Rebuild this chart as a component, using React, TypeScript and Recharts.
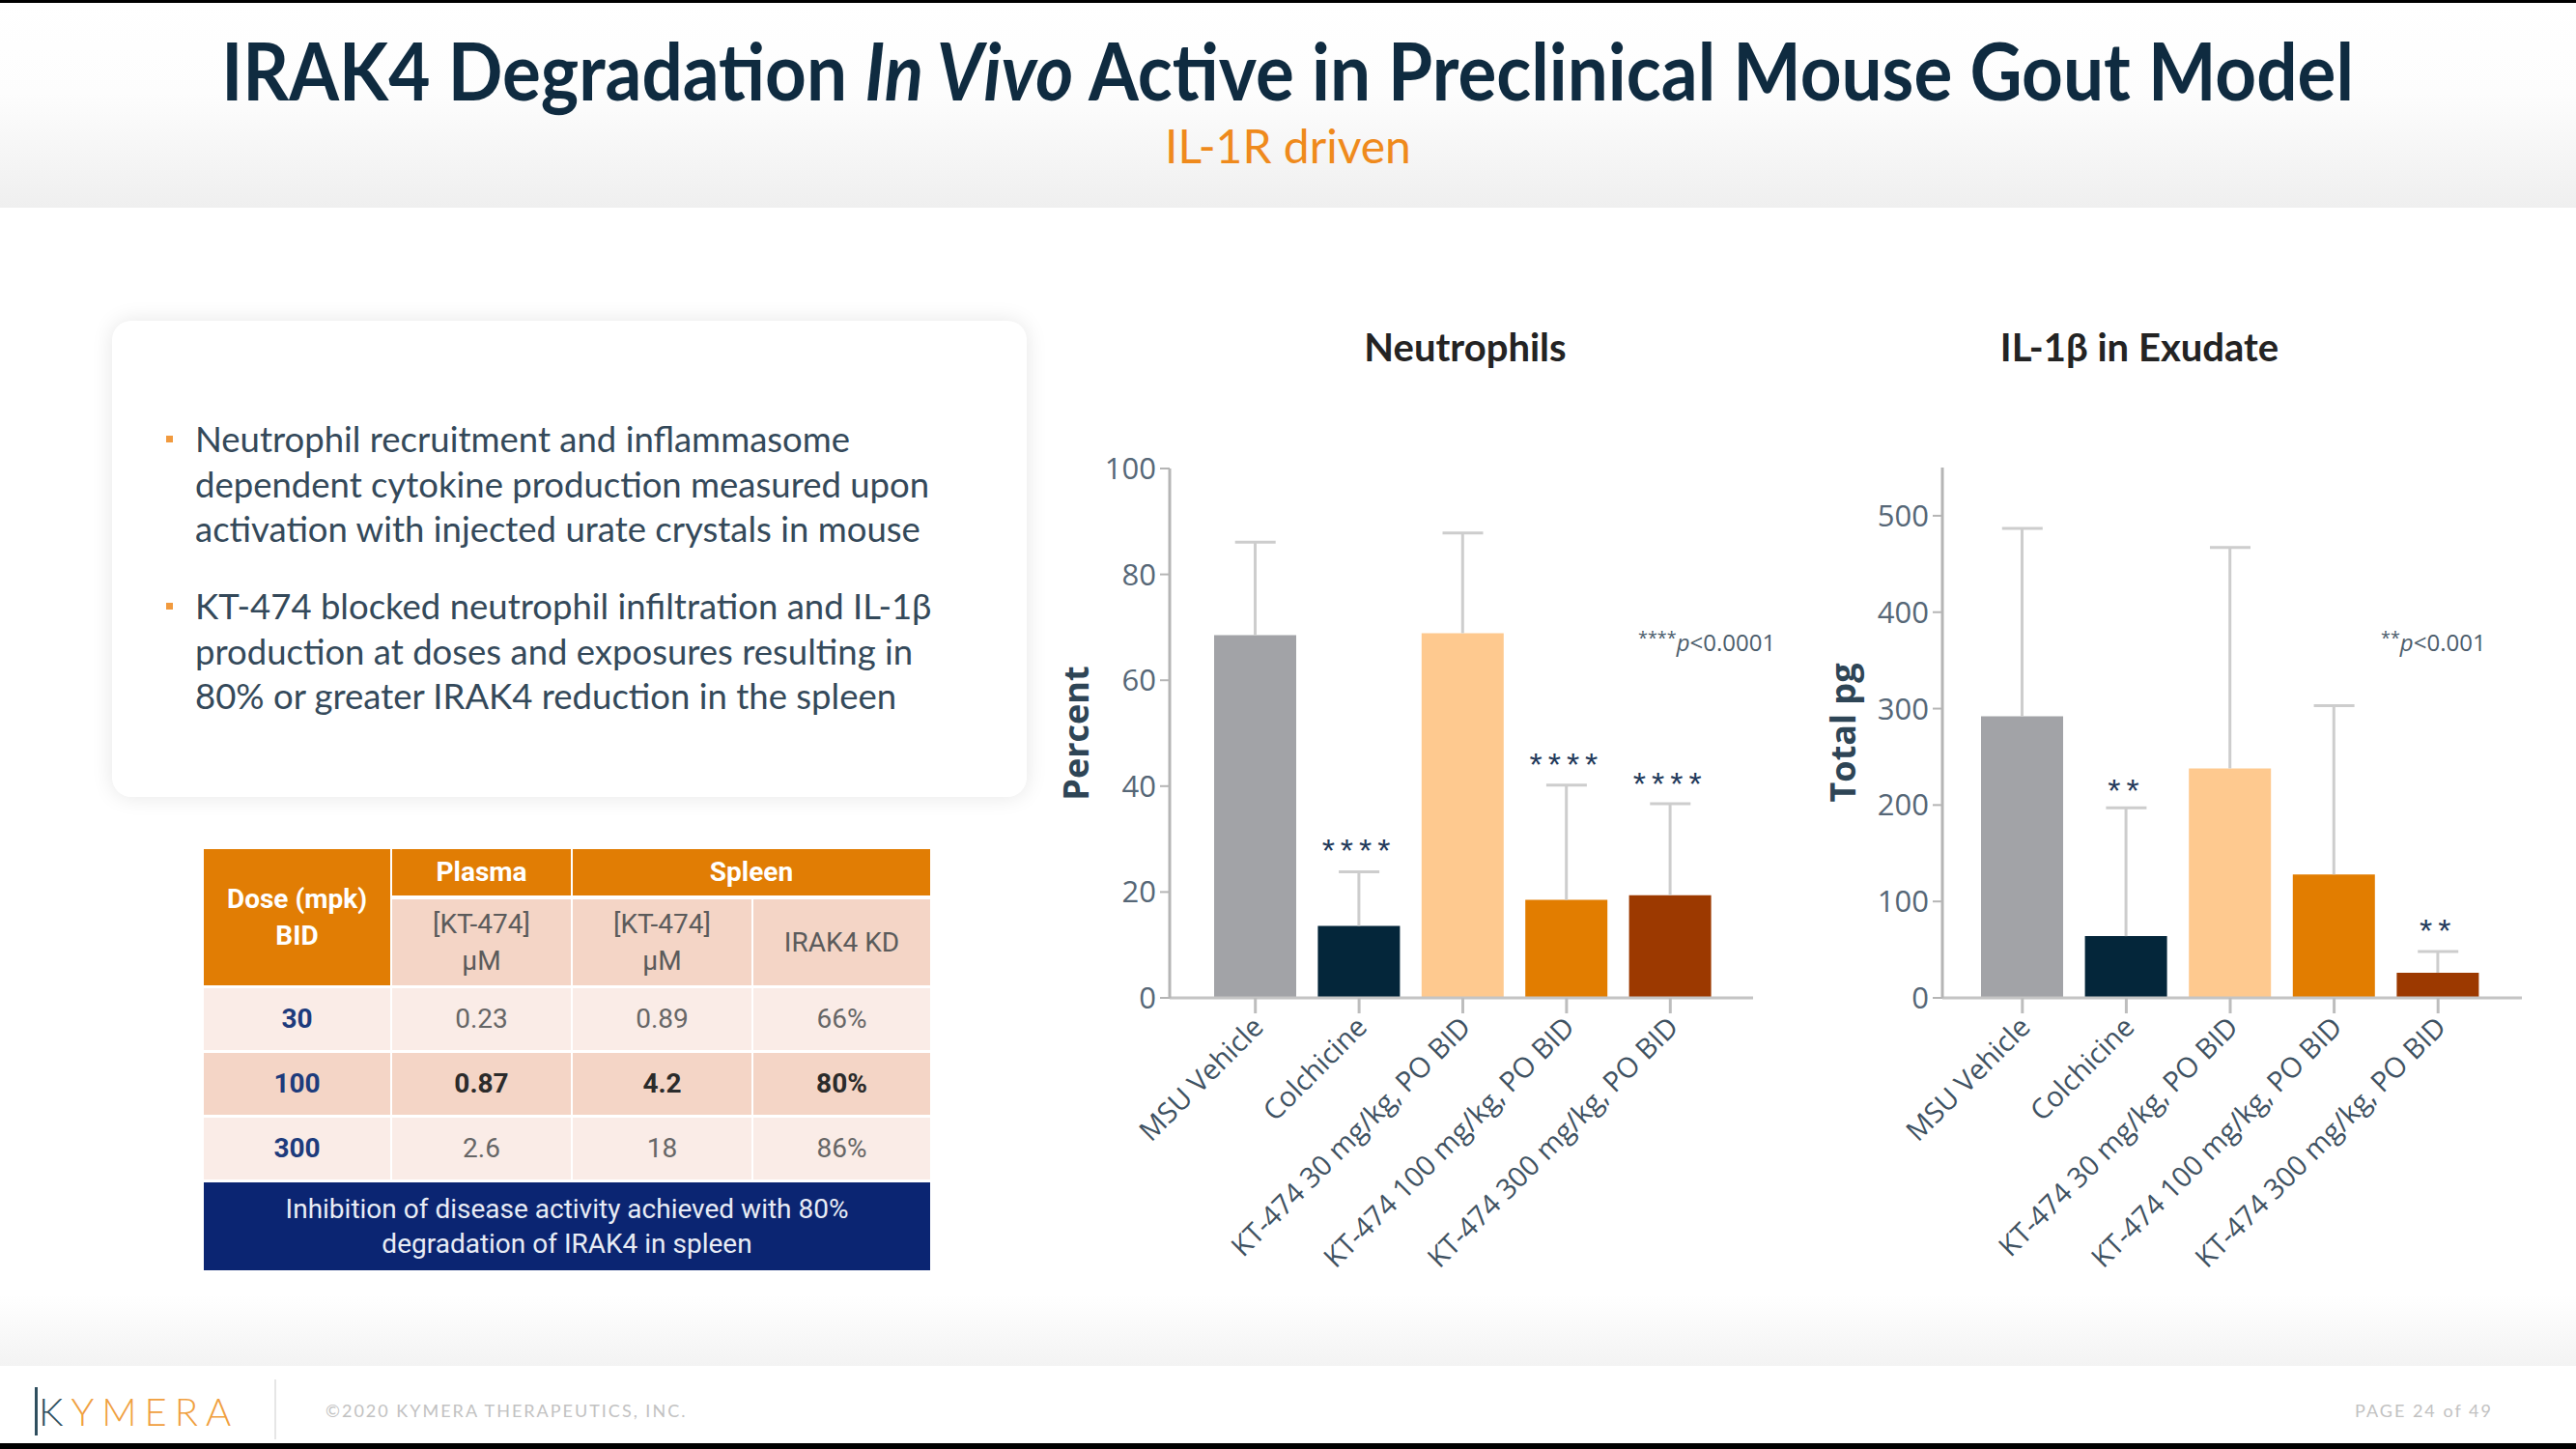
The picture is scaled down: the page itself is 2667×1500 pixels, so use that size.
import React from "react";
import { ComposedChart, Bar, XAxis, YAxis, ErrorBar, Cell, Scatter, Label } from "recharts";

// treatment groups, same order in both panels
const groups = [
  "MSU Vehicle",
  "Colchicine",
  "KT-474 30 mg/kg, PO BID",
  "KT-474 100 mg/kg, PO BID",
  "KT-474 300 mg/kg, PO BID",
];
const barColors = ["#a2a3a7", "#04263a", "#fec98f", "#e27d00", "#9c3900"];

// Neutrophils (percent), mean and upward SD
const neutrophilMean = [68.5, 13.6, 68.9, 18.5, 19.4];
const neutrophilSd = [17.6, 10.2, 18.9, 21.7, 17.3];
const neutrophilStars = ["", "****", "", "****", "****"];
const neutrophilStarAt = [null, 29.2, null, 45.5, 41.7];
const percentTicks = [0, 20, 40, 60, 80, 100];

// IL-1b in exudate (total pg)
const il1bMean = [292, 64, 238, 128, 26];
const il1bSd = [195, 133, 229, 175, 22];
const il1bStars = ["", "**", "", "", "**"];
const il1bStarAt = [null, 222, null, null, 77];
const pgTicks = [0, 100, 200, 300, 400, 500];

// exposure table
const doses = ["30", "100", "300"];
const plasmaConc = ["0.23", "0.87", "2.6"];
const spleenConc = ["0.89", "4.2", "18"];
const irak4Kd = ["66%", "80%", "86%"];

const bullets = [
  [
    "Neutrophil recruitment and inflammasome",
    "dependent cytokine production measured upon",
    "activation with injected urate crystals in mouse",
  ],
  [
    "KT-474 blocked neutrophil infiltration and IL-1\u03b2",
    "production at doses and exposures resulting in",
    "80% or greater IRAK4 reduction in the spleen",
  ],
];

const sans = "'Open Sans', 'DejaVu Sans', sans-serif";
const lato = "Lato, 'Open Sans', sans-serif";

function GroupTick(props: any) {
  const { x, y, payload } = props;
  const ax = x + 10;
  const ay = y + 14;
  return (
    <text
      x={ax}
      y={ay}
      transform={`rotate(-45 ${ax} ${ay})`}
      textAnchor="end"
      fontSize={29}
      fill="#3f5262"
      fontFamily={sans}
    >
      {payload.value}
    </text>
  );
}

function StarMark(props: any) {
  const { cx, cy, payload } = props;
  if (!payload || !payload.mark || typeof cy !== "number" || isNaN(cy)) return <g />;
  return (
    <text
      x={cx}
      y={cy + 19}
      textAnchor="middle"
      fontSize={34}
      letterSpacing={6}
      fill="#22395a"
      fontFamily="'Liberation Sans', sans-serif"
    >
      {payload.mark}
    </text>
  );
}

// cap drawn only on the upper end of each error bar
function ErrCap(props: any) {
  const { cx, cy } = props;
  if (typeof cy !== "number" || isNaN(cy)) return <g />;
  return <line x1={cx - 21} x2={cx + 21} y1={cy} y2={cy} stroke="#cdcdcd" strokeWidth={3} />;
}

interface PanelProps {
  left: number;
  yLabel: string;
  labelOffset: number;
  mean: number[];
  sd: number[];
  stars: string[];
  starAt: (number | null)[];
  domain: [number, number];
  ticks: number[];
  top: number;
  right: number;
  pad: { left: number; right: number };
}

function Panel({ left, yLabel, labelOffset, mean, sd, stars, starAt, domain, ticks, top, right, pad }: PanelProps) {
  const data = groups.map((name, i) => ({
    name,
    value: mean[i],
    err: [0, sd[i]],
    errTop: mean[i] + sd[i],
    star: starAt[i],
    mark: stars[i],
  }));
  return (
    <div style={{ position: "absolute", left, top: 400 }}>
      <ComposedChart
        width={800}
        height={1000}
        data={data}
        margin={{ top, right, left: 41, bottom: 67 }}
      >
        <XAxis
          dataKey="name"
          interval={0}
          tick={<GroupTick />}
          tickSize={16}
          tickLine={{ stroke: "#bdbdbd", strokeWidth: 3 }}
          axisLine={{ stroke: "#c4c4c4", strokeWidth: 3 }}
          height={300}
          padding={pad}
        />
        <YAxis
          type="number"
          domain={domain}
          ticks={ticks}
          width={120}
          tickSize={10}
          tickMargin={4}
          axisLine={{ stroke: "#b5b5b5", strokeWidth: 3 }}
          tickLine={{ stroke: "#b5b5b5", strokeWidth: 2 }}
          tick={{ fontSize: 31, fill: "#566777", fontFamily: sans }}
        >
          <Label
            value={yLabel}
            angle={-90}
            position="insideLeft"
            offset={labelOffset}
            style={{ textAnchor: "middle", fontSize: 36, fontWeight: 700, fill: "#2e4556", fontFamily: sans }}
          />
        </YAxis>
        <Bar dataKey="value" barSize={85} isAnimationActive={false}>
          {data.map((d, i) => (
            <Cell key={d.name} fill={barColors[i]} />
          ))}
          <ErrorBar dataKey="err" width={0} stroke="#cdcdcd" strokeWidth={3} />
        </Bar>
        <Scatter dataKey="errTop" shape={<ErrCap />} isAnimationActive={false} />
        <Scatter dataKey="star" shape={<StarMark />} isAnimationActive={false} />
      </ComposedChart>
    </div>
  );
}

const cellBase: React.CSSProperties = {
  position: "absolute",
  display: "flex",
  alignItems: "center",
  justifyContent: "center",
  textAlign: "center",
  fontFamily: "Roboto, 'Liberation Sans', sans-serif",
  fontSize: 28,
  lineHeight: "38px",
};

function ExposureTable() {
  const colX = [211, 406, 593, 780];
  const colW = [193, 185, 185, 183];
  const rowTop = [1023, 1090, 1157];
  const rowFill = ["#faece7", "#f4d5c6", "#faece7"];
  const cols = [doses, plasmaConc, spleenConc, irak4Kd];
  const orange = "#e17d04";
  const peach = "#f4d5c6";
  return (
    <>
      <div style={{ ...cellBase, left: colX[0], top: 879, width: colW[0], height: 141, background: orange, color: "#fff", fontWeight: 700 }}>
        Dose (mpk)
        <br />
        BID
      </div>
      <div style={{ ...cellBase, left: colX[1], top: 879, width: colW[1], height: 48, background: orange, color: "#fff", fontWeight: 700 }}>
        Plasma
      </div>
      <div style={{ ...cellBase, left: colX[2], top: 879, width: colW[2] + colW[3] + 2, height: 48, background: orange, color: "#fff", fontWeight: 700 }}>
        Spleen
      </div>
      {["[KT-474]\n\u00b5M", "[KT-474]\n\u00b5M", "IRAK4 KD"].map((t, j) => (
        <div
          key={j}
          style={{ ...cellBase, left: colX[j + 1], top: 931, width: colW[j + 1], height: 89, background: peach, color: "#5b5b5b", whiteSpace: "pre-line" }}
        >
          {t}
        </div>
      ))}
      {rowTop.map((t, r) =>
        cols.map((c, j) => (
          <div
            key={`${r}-${j}`}
            style={{
              ...cellBase,
              left: colX[j],
              top: t,
              width: colW[j],
              height: 64,
              background: rowFill[r],
              color: j === 0 ? "#1d3b7c" : r === 1 ? "#2b2b2b" : "#666",
              fontWeight: j === 0 || r === 1 ? 700 : 400,
            }}
          >
            {c[r]}
          </div>
        ))
      )}
      <div
        style={{ ...cellBase, left: 211, top: 1224, width: 752, height: 91, background: "#0b2572", color: "#e8ecf5", fontSize: 28, lineHeight: "36px" }}
      >
        Inhibition of disease activity achieved with 80%
        <br />
        degradation of IRAK4 in spleen
      </div>
    </>
  );
}

export default function App() {
  return (
    <div style={{ position: "absolute", left: 0, top: 0, width: 2667, height: 1500, background: "#fff", overflow: "hidden" }}>
      {/* header band */}
      <div style={{ position: "absolute", left: 0, top: 0, width: 2667, height: 215, background: "linear-gradient(#ffffff 0%, #fdfdfd 45%, #efefef 100%)" }} />
      <div style={{ position: "absolute", left: 0, top: 0, width: 2667, height: 3, background: "#000" }} />
      <div style={{ position: "absolute", left: 0, top: 1340, width: 2667, height: 74, background: "linear-gradient(#ffffff, #f3f3f3)" }} />
      <div style={{ position: "absolute", left: 0, top: 1494, width: 2667, height: 6, background: "#000" }} />

      <div style={{ position: "absolute", left: 0, top: 22, width: 2667, textAlign: "center", fontFamily: lato, fontWeight: 700, fontSize: 82, lineHeight: "100px", color: "#0f2b40", whiteSpace: "nowrap" }}>
        <span style={{ display: "inline-block", transform: "scaleX(0.91)" }}>
          IRAK4 Degradation <i>In Vivo</i> Active in Preclinical Mouse Gout Model
        </span>
      </div>
      <div style={{ position: "absolute", left: 0, top: 122, width: 2667, textAlign: "center", fontFamily: lato, fontSize: 48, lineHeight: "58px", color: "#ef8a1c" }}>
        IL-1R driven
      </div>

      {/* text card */}
      <div style={{ position: "absolute", left: 116, top: 332, width: 947, height: 493, background: "#fff", borderRadius: 20, boxShadow: "0 0 22px rgba(0,0,0,0.10)" }} />
      {bullets.map((lines, b) => (
        <div key={b} style={{ position: "absolute", left: 202, top: 431 + b * 173 }}>
          <div style={{ position: "absolute", left: -30, top: 20, width: 7, height: 7, background: "#f19a3e" }} />
          {lines.map((l) => (
            <div key={l} style={{ fontFamily: lato, fontSize: 36.5, lineHeight: "46.5px", color: "#34495a", whiteSpace: "nowrap" }}>
              {l}
            </div>
          ))}
        </div>
      ))}

      <ExposureTable />

      {/* charts */}
      <div style={{ position: "absolute", left: 1317, top: 332, width: 400, textAlign: "center", fontFamily: lato, fontWeight: 700, fontSize: 40, lineHeight: "54px", color: "#232323" }}>
        Neutrophils
      </div>
      <div style={{ position: "absolute", left: 2015, top: 332, width: 400, textAlign: "center", fontFamily: lato, fontWeight: 700, fontSize: 40, lineHeight: "54px", color: "#232323" }}>
        IL-1{"\u03b2"} in Exudate
      </div>
      <Panel
        left={1050}
        yLabel="Percent"
        labelOffset={23}
        mean={neutrophilMean}
        sd={neutrophilSd}
        stars={neutrophilStars}
        starAt={neutrophilStarAt}
        domain={[0, 100]}
        ticks={percentTicks}
        top={85}
        right={35}
        pad={{ left: 35, right: 32 }}
      />
      <Panel
        left={1850}
        yLabel="Total pg"
        labelOffset={17}
        mean={il1bMean}
        sd={il1bSd}
        stars={il1bStars}
        starAt={il1bStarAt}
        domain={[0, 550]}
        ticks={pgTicks}
        top={84}
        right={39}
        pad={{ left: 29, right: 33 }}
      />
      <div style={{ position: "absolute", left: 1696, top: 648, fontFamily: sans, fontSize: 24, color: "#4b5c6b", whiteSpace: "nowrap" }}>
        <span style={{ fontSize: 18, verticalAlign: "top" }}>****</span>
        <i>p</i>&lt;0.0001
      </div>
      <div style={{ position: "absolute", left: 2465, top: 648, fontFamily: sans, fontSize: 24, color: "#4b5c6b", whiteSpace: "nowrap" }}>
        <span style={{ fontSize: 18, verticalAlign: "top" }}>**</span>
        <i>p</i>&lt;0.001
      </div>

      {/* footer */}
      <div style={{ position: "absolute", left: 36, top: 1436, width: 3, height: 50, background: "#2f4f5f" }} />
      <div style={{ position: "absolute", left: 40, top: 1436, fontFamily: lato, fontWeight: 300, fontSize: 40, lineHeight: "50px", letterSpacing: 8, whiteSpace: "nowrap" }}>
        <span style={{ color: "#2f4f5f" }}>K</span>
        <span style={{ color: "#f0a040" }}>YMERA</span>
      </div>
      <div style={{ position: "absolute", left: 284, top: 1428, width: 2, height: 62, background: "#e6e6e6" }} />
      <div style={{ position: "absolute", left: 337, top: 1449, fontFamily: lato, fontSize: 18, letterSpacing: 2, color: "#c2c2c2", whiteSpace: "nowrap" }}>
        {"\u00a9"}2020 KYMERA THERAPEUTICS, INC.
      </div>
      <div style={{ position: "absolute", left: 2438, top: 1449, fontFamily: lato, fontSize: 18, letterSpacing: 2, color: "#c2c2c2", whiteSpace: "nowrap" }}>
        PAGE 24 of 49
      </div>
    </div>
  );
}
